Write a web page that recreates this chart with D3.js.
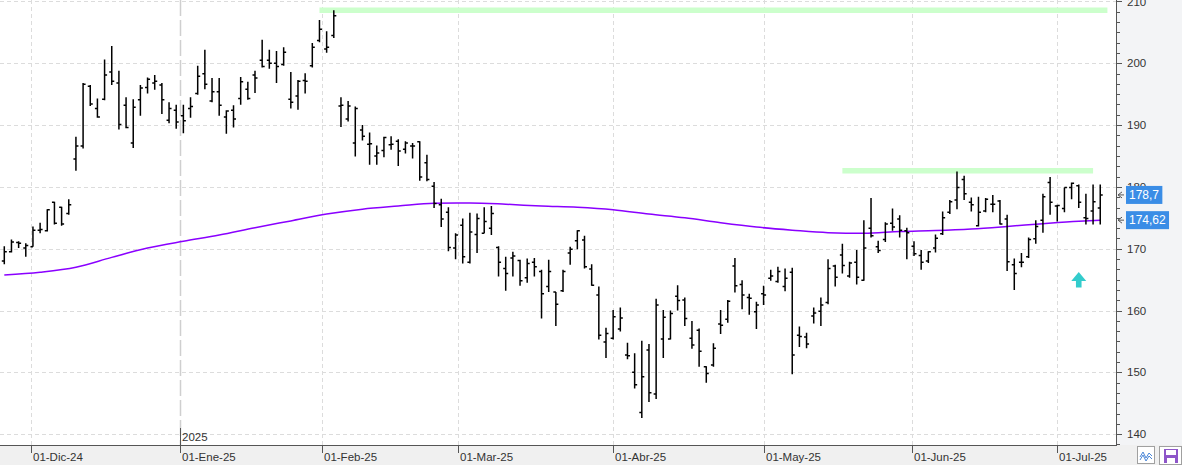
<!DOCTYPE html>
<html>
<head>
<meta charset="utf-8">
<script src="https://cdn.jsdelivr.net/npm/d3@7"></script>
<style>
  body { margin: 0; background: #fff; }
  svg { display: block; font-family: "Liberation Sans", Arial, sans-serif; }
</style>
</head>
<body>
<svg id="chart" width="1182" height="465"></svg>
<script>
// daily OHLC, one entry per trading day starting 25-Nov-24
var opens = [168.0,169.5,171.0,170.1,170.3,173.0,172.9,177.5,176.7,175.7,
  184.5,186.6,196.3,192.7,194.2,198.6,196.8,193.2,187.1,194.1,
  196.1,196.8,196.5,190.8,192.4,191.5,192.7,195.1,198.3,193.9,
  195.4,191.3,192.4,194.3,195.8,198.1,200.5,200.5,200.0,199.8,
  194.2,194.7,197.2,199.6,203.7,202.3,204.5,193.1,191.0,187.1,
  189.2,186.9,185.0,185.9,186.8,187.4,186.1,186.6,187.3,183.9,
  180.1,177.1,175.9,170.1,173.8,167.8,172.3,172.5,173.3,170.2,
  166.8,168.5,168.1,165.3,167.8,166.3,163.9,163.0,163.2,169.3,
  171.3,171.4,166.7,162.5,154.9,155.5,157.0,152.8,150.0,143.5,
  153.6,146.5,155.4,155.4,162.3,161.7,155.5,156.8,150.9,151.2,
  157.8,158.6,167.2,164.2,162.1,159.8,162.7,165.2,164.7,163.9,
  166.2,156.0,155.7,159.1,159.9,161.3,167.2,169.0,165.6,167.8,
  164.9,173.3,170.3,171.5,174.1,174.8,172.9,170.4,168.9,168.0,
  170.1,172.4,175.9,177.9,181.2,177.5,173.7,176.1,177.2,177.7,
  174.8,167.4,167.8,168.7,171.6,174.6,180.7,176.9,176.5,179.9,
  180.2,175.0,176.1,176.6];
var highs = [170.4,171.5,171.2,170.9,173.6,174.2,176.4,177.6,176.8,178.0,
  188.1,196.8,196.5,194.3,200.6,202.8,198.8,194.5,194.2,196.5,
  197.7,198.1,196.8,193.7,193.3,193.3,194.5,199.6,202.2,197.6,
  197.6,192.4,193.2,197.8,197.0,198.8,203.8,202.2,202.0,202.6,
  198.6,197.3,198.4,203.3,207.0,205.2,208.6,194.5,193.9,193.0,
  190.0,188.8,186.7,188.1,188.2,187.7,187.4,187.1,187.4,185.2,
  180.8,178.1,176.7,172.5,174.9,175.8,175.7,176.7,176.9,170.4,
  168.7,169.5,168.2,168.4,168.5,166.6,168.2,163.0,166.6,170.3,
  173.0,172.1,167.5,163.9,157.2,160.1,160.5,154.8,153.1,155.1,
  154.6,161.9,160.1,160.0,164.1,162.1,158.3,157.1,151.0,154.7,
  160.1,161.7,168.5,164.9,162.7,161.4,164.0,166.6,167.1,166.8,
  166.9,157.4,156.4,160.5,162.1,168.3,167.4,170.8,167.9,169.8,
  174.6,178.2,171.3,174.3,176.5,175.4,173.4,171.2,169.8,169.6,
  172.3,176.0,177.9,182.5,181.8,178.3,178.4,178.2,178.7,177.9,
  175.5,168.4,169.3,171.8,174.6,178.9,181.6,177.1,179.9,180.7,
  180.4,178.9,180.4,180.4];
var lows = [167.5,169.4,170.1,168.7,170.3,172.5,172.8,173.9,173.7,175.5,
  182.6,186.2,193.1,191.2,194.0,196.5,189.3,189.5,186.3,191.5,
  195.1,195.7,191.8,190.3,189.4,188.7,191.2,194.9,195.8,193.7,
  191.5,188.6,189.6,193.3,194.1,195.2,199.3,199.1,196.8,199.6,
  192.7,192.5,195.1,199.3,203.4,201.7,204.1,189.7,190.6,184.9,
  187.5,183.6,183.6,184.8,186.0,183.4,185.4,184.6,181.0,180.9,
  176.6,173.5,169.6,168.3,167.6,167.6,169.3,172.5,172.2,165.5,
  163.2,165.5,164.0,164.5,165.5,158.7,163.0,157.5,163.0,167.4,
  169.9,166.8,164.0,155.3,152.3,155.3,156.6,152.1,147.4,142.6,
  145.2,145.7,152.3,155.3,160.0,157.5,153.8,150.9,148.3,150.9,
  156.2,158.0,162.9,160.2,159.3,157.0,160.9,164.8,164.5,163.1,
  149.7,154.1,153.9,157.9,157.5,161.0,163.9,166.0,165.3,164.2,
  164.8,171.8,169.3,171.1,172.9,171.8,168.3,168.8,166.6,167.7,
  169.4,172.2,175.6,176.4,177.9,176.0,173.6,175.9,175.9,173.9,
  166.4,163.3,167.0,168.5,170.8,172.6,175.5,174.4,175.9,178.0,
  176.6,173.9,173.9,173.9];
var closes = [169.5,171.1,170.9,170.5,173.0,173.1,176.3,174.1,174.0,177.1,
  186.6,196.6,193.4,191.3,198.1,197.1,190.1,189.6,192.9,196.0,
  197.4,197.1,194.1,192.7,190.5,190.7,193.0,197.9,196.6,195.4,
  193.2,192.3,191.0,197.0,194.3,197.6,199.5,200.0,199.5,201.8,
  193.7,197.1,197.1,202.6,205.5,202.6,207.7,193.2,193.1,192.7,
  188.2,187.0,185.5,188.0,186.9,185.8,187.1,186.6,181.6,181.2,
  177.3,174.8,170.2,172.2,168.7,172.7,174.9,174.4,175.7,167.8,
  166.0,168.8,164.8,167.6,167.1,162.7,166.3,161.0,166.3,169.9,
  172.9,167.1,164.1,156.0,156.3,159.0,158.8,152.7,148.0,149.3,
  146.7,160.9,158.9,159.5,161.6,158.7,154.4,153.4,149.8,153.9,
  157.6,161.5,164.0,162.5,162.0,160.9,162.5,165.6,166.3,165.2,
  152.8,155.8,154.6,159.6,160.9,166.8,165.4,167.3,167.7,165.4,
  170.1,172.1,169.7,174.0,173.5,173.0,172.6,169.2,167.8,169.5,
  171.7,175.0,177.6,179.9,178.9,177.1,175.9,178.0,177.2,174.0,
  167.9,166.0,167.8,171.5,173.6,178.4,177.5,177.0,179.9,180.6,
  177.5,174.9,177.6,178.7];

var firstDay = "2024-11-25";
var holidays = ["2024-11-28", "2024-12-25", "2025-01-01", "2025-01-09", "2025-01-20",
  "2025-02-17", "2025-04-18", "2025-05-26", "2025-06-19", "2025-07-04"];

var monthDates = ["2024-12-01", "2025-01-01", "2025-02-01", "2025-03-01",
  "2025-04-01", "2025-05-01", "2025-06-01", "2025-07-01"];
var monthLabels = ["01-Dic-24", "01-Ene-25", "01-Feb-25", "01-Mar-25",
  "01-Abr-25", "01-May-25", "01-Jun-25", "01-Jul-25"];
var yearDate = "2025-01-01", yearLabel = "2025";

// long moving average, read every 5 bars
var maIndex = [0,5,10,15,20,25,30,35,40,45,50,55,60,65,70,75,80,85,90,95,100,105,110,115,120,125,130,135,140,145,150,153];
var maValues = [165.75,166.2,167.0,168.6,170.1,171.2,172.2,173.4,174.5,175.6,176.4,176.9,177.35,177.4,177.2,176.9,176.7,176.3,175.6,175.0,174.2,173.5,173.0,172.6,172.5,172.8,172.95,173.2,173.6,174.05,174.45,174.62];

// resistance lines (bar index range and price)
var levelFrom = [44, 117];
var levelTo = [154, 152];
var levelValue = [208.6, 182.6];

var signalIndex = [150], signalValue = [165];

var yTicks = d3.range(140, 211, 10);
var lastClose = 178.7, lastMA = 174.62;

var W = 1182, H = 465, plotW = 1116, plotH = 445;
var fmt = d3.format(",.2~f");
function esNum(v) { return fmt(v).replace(".", ","); }

var parse = d3.utcParse("%Y-%m-%d"), key = d3.utcFormat("%Y-%m-%d");
var days = [];
var d = parse(firstDay);
while (days.length < closes.length) {
  var wd = d.getUTCDay();
  if (wd != 0 && wd != 6 && holidays.indexOf(key(d)) < 0) days.push(d);
  d = d3.utcDay.offset(d, 1);
}
function datePos(t) {
  var i = d3.bisectRight(days, t) - 1;
  if (i < 0) return 0;
  if (+days[i] === +t || i === days.length - 1) return i;
  return i + (t - days[i]) / (days[i + 1] - days[i]);
}

var x = d3.scaleLinear().domain([-0.6, 155.2]).range([0, plotW]);
var y = d3.scaleLinear().domain([138.24, 210.24]).range([plotH, 0]);

var svg = d3.select("#chart");

svg.append("rect").attr("x", 0).attr("y", 0).attr("width", W).attr("height", H).attr("fill", "#fff");
svg.append("rect").attr("x", plotW).attr("y", 0).attr("width", W - plotW).attr("height", H).attr("fill", "#f3f4f6");
svg.append("rect").attr("x", 0).attr("y", plotH).attr("width", W).attr("height", H - plotH).attr("fill", "#f0f0f0");

svg.append("clipPath").attr("id", "clip").append("rect")
  .attr("width", plotW).attr("height", plotH);
var plot = svg.append("g").attr("clip-path", "url(#clip)");

// grid
plot.selectAll("line.hgrid")
  .data(yTicks)
  .enter().append("line")
  .attr("class", "hgrid")
  .attr("x1", 0).attr("x2", plotW)
  .attr("y1", function(v) { return Math.round(y(v)) + 0.5; })
  .attr("y2", function(v) { return Math.round(y(v)) + 0.5; })
  .attr("stroke", "#dcdcdc").attr("stroke-dasharray", "4,3");

var monthPos = monthDates.map(function(s) { return datePos(parse(s)); });
var yearPos = datePos(parse(yearDate));

plot.selectAll("line.vgrid")
  .data(monthPos)
  .enter().append("line")
  .attr("class", "vgrid")
  .attr("x1", function(p) { return Math.round(x(p)) + 0.5; })
  .attr("x2", function(p) { return Math.round(x(p)) + 0.5; })
  .attr("y1", 0).attr("y2", plotH)
  .attr("stroke", function(p) { return p === yearPos ? "#cfcfcf" : "#dcdcdc"; })
  .attr("stroke-width", function(p) { return p === yearPos ? 1.5 : 1; })
  .attr("stroke-dasharray", function(p) { return p === yearPos ? "16,4" : "4,3"; });

// resistance levels
plot.selectAll("line.level")
  .data(levelValue)
  .enter().append("line")
  .attr("class", "level")
  .attr("x1", function(v, i) { return x(levelFrom[i]); })
  .attr("x2", function(v, i) { return x(levelTo[i]); })
  .attr("y1", function(v) { return y(v); })
  .attr("y2", function(v) { return y(v); })
  .attr("stroke", "#ccffcc").attr("stroke-width", 5.5);

// moving average
var maLine = d3.line()
  .x(function(v, i) { return x(maIndex[i]); })
  .y(function(v) { return y(v); })
  .curve(d3.curveMonotoneX);
plot.append("path")
  .datum(maValues)
  .attr("d", maLine)
  .attr("fill", "none")
  .attr("stroke", "#8a00ff")
  .attr("stroke-width", 1.5);

// OHLC bars
plot.selectAll("path.bar")
  .data(closes)
  .enter().append("path")
  .attr("class", "bar")
  .attr("d", function(c, i) {
    var cx = x(i);
    return "M" + cx + "," + y(highs[i]) + "V" + y(lows[i]) +
      "M" + (cx - 2.5) + "," + y(opens[i]) + "H" + cx +
      "M" + cx + "," + y(c) + "H" + (cx + 2.5);
  })
  .attr("fill", "none")
  .attr("stroke", "#000")
  .attr("stroke-width", 1.5);

// signal arrow
plot.selectAll("path.signal")
  .data(signalValue)
  .enter().append("path")
  .attr("class", "signal")
  .attr("transform", function(v, i) { return "translate(" + x(signalIndex[i]) + "," + y(v) + ")"; })
  .attr("d", "M0,-7.5L7.5,1.5L2.8,1.5L2.8,8L-2.8,8L-2.8,1.5L-7.5,1.5Z")
  .attr("fill", "#33cccc");

// right axis
var minor = d3.range(-1, 44).map(function(k) { return 140 + k * 10 / 6; })
  .filter(function(v, k) { return (k - 1) % 6 !== 0 && y(v) > 0 && y(v) < plotH; });
svg.selectAll("line.minor")
  .data(minor)
  .enter().append("line")
  .attr("x1", plotW).attr("x2", plotW + 4)
  .attr("y1", function(v) { return Math.round(y(v)) + 0.5; })
  .attr("y2", function(v) { return Math.round(y(v)) + 0.5; })
  .attr("stroke", "#555");
svg.selectAll("line.major")
  .data(yTicks)
  .enter().append("line")
  .attr("x1", plotW).attr("x2", plotW + 6)
  .attr("y1", function(v) { return Math.round(y(v)) + 0.5; })
  .attr("y2", function(v) { return Math.round(y(v)) + 0.5; })
  .attr("stroke", "#555");
svg.selectAll("text.ylab")
  .data(yTicks)
  .enter().append("text")
  .attr("x", plotW + 11)
  .attr("y", function(v) { return y(v); })
  .attr("dy", "0.36em")
  .attr("font-size", 11.5)
  .attr("fill", "#333")
  .text(function(v) { return v; });

// last value tags
var tags = [lastClose, lastMA];
var tagLabels = [esNum(lastClose), esNum(lastMA)];
var tag = svg.selectAll("g.tag")
  .data(tags)
  .enter().append("g")
  .attr("transform", function(v) { return "translate(" + plotW + "," + y(v) + ")"; });
tag.append("path")
  .attr("d", "M6,-3L2,0L6,3M2,0H8")
  .attr("fill", "none").attr("stroke", "#555");
tag.append("text")
  .attr("x", 13).attr("dy", "0.36em")
  .attr("font-size", 12)
  .attr("fill", "#fff")
  .text(function(v, i) { return tagLabels[i]; })
  .each(function() {
    var b = this.getBBox();
    d3.select(this.parentNode).insert("rect", "text")
      .attr("x", 10).attr("y", -9)
      .attr("width", b.width + 6).attr("height", 18)
      .attr("fill", "#3a8de6");
  });

// bottom axis
svg.selectAll("line.xtick")
  .data(monthPos)
  .enter().append("line")
  .attr("x1", function(p) { return Math.round(x(p)) + 0.5; })
  .attr("x2", function(p) { return Math.round(x(p)) + 0.5; })
  .attr("y1", plotH).attr("y2", plotH + 8)
  .attr("stroke", "#555");
svg.selectAll("text.xlab")
  .data(monthLabels)
  .enter().append("text")
  .attr("x", function(s, i) { return Math.round(x(monthPos[i])) + 2; })
  .attr("y", plotH + 12).attr("dy", "0.36em")
  .attr("font-size", 11.5)
  .attr("fill", "#333")
  .text(function(s) { return s; });

svg.append("line")
  .attr("x1", Math.round(x(yearPos)) + 0.5).attr("x2", Math.round(x(yearPos)) + 0.5)
  .attr("y1", plotH - 17).attr("y2", plotH)
  .attr("stroke", "#555");
svg.append("text")
  .attr("x", Math.round(x(yearPos)) + 2).attr("y", plotH - 8).attr("dy", "0.36em")
  .attr("font-size", 11.5).attr("fill", "#333")
  .text(yearLabel);

svg.append("line").attr("x1", plotW + 0.5).attr("x2", plotW + 0.5).attr("y1", 0).attr("y2", plotH)
  .attr("stroke", "#555");
svg.append("line").attr("x1", 0).attr("x2", plotW + 1).attr("y1", plotH + 0.5).attr("y2", plotH + 0.5)
  .attr("stroke", "#555");

// toolbar buttons, bottom right
var btn = svg.append("g");
btn.append("rect").attr("x", 1137.5).attr("y", 446.5).attr("width", 17).attr("height", 17)
  .attr("fill", "#fff").attr("stroke", "#a0a0a0");
btn.append("path").attr("d", "M1140,457L1143,452L1146,458L1149,453L1152,456M1140,460L1143,455L1146,461L1149,456L1152,459")
  .attr("fill", "none").attr("stroke", "#4a86d8").attr("stroke-width", 1);
btn.append("rect").attr("x", 1159.5).attr("y", 446.5).attr("width", 22).attr("height", 18)
  .attr("fill", "#fff").attr("stroke", "#a0a0a0");
btn.append("rect").attr("x", 1164).attr("y", 449).attr("width", 14).attr("height", 14)
  .attr("fill", "#8e56c9");
btn.append("rect").attr("x", 1166).attr("y", 450).attr("width", 10).attr("height", 5).attr("fill", "#fff");
btn.append("rect").attr("x", 1167).attr("y", 458).attr("width", 8).attr("height", 5).attr("fill", "#fff");
</script>
</body>
</html>
